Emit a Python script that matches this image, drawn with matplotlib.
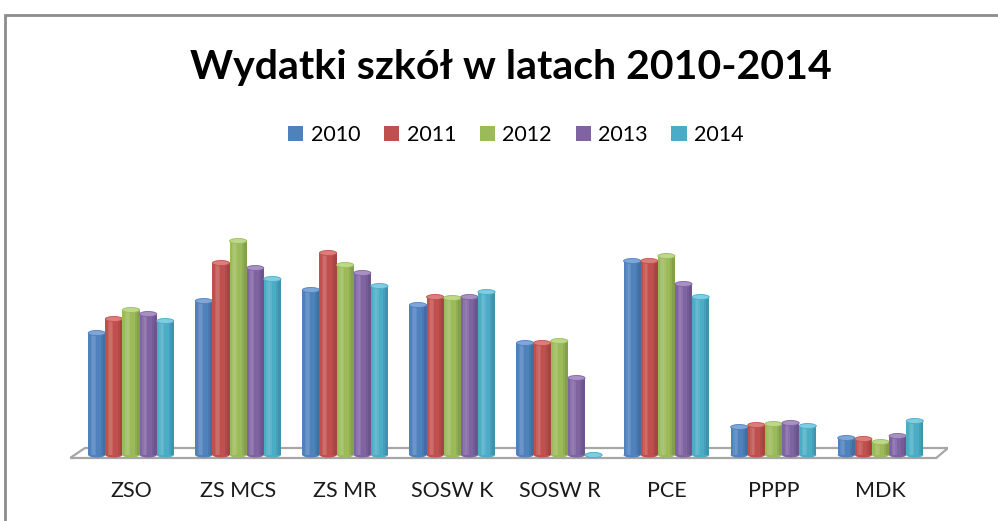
import matplotlib.pyplot as plt
from matplotlib.patches import Ellipse, Polygon, Rectangle
import numpy as np

# data (no value axis, arbitrary units)
categories = ['ZSO', 'ZS MCS', 'ZS MR', 'SOSW K', 'SOSW R', 'PCE', 'PPPP', 'MDK']
years = ['2010', '2011', '2012', '2013', '2014']
v2010 = [122, 154, 165, 150, 112, 194, 28, 17]
v2011 = [136, 192, 202, 158, 112, 194, 30, 16]
v2012 = [145, 214, 190, 157, 114, 199, 31, 13]
v2013 = [141, 187, 182, 158, 77, 171, 32, 19]
v2014 = [134, 176, 169, 163, 0, 158, 29, 34]
series = [v2010, v2011, v2012, v2013, v2014]
colors = ['#4F81BD', '#C0504D', '#9BBB59', '#8064A2', '#4BACC6']
tops = ['#7FA6D8', '#DB7E7B', '#BCD98A', '#A690C4', '#80CCE0']

plt.rcParams['font.family'] = ['Lato', 'DejaVu Sans']

W, H = 998, 521
fig = plt.figure(figsize=(W / 100, H / 100), dpi=100)

# chart border (top and left visible, rest cut off)
fig.patches.append(Rectangle((5 / W, -0.1), 1.2, 1 - 15 / H + 0.1, transform=fig.transFigure,
                             fill=False, edgecolor='#8c8c8c', lw=2))

ax_l, ax_r = 70, 948
ax_b, ax_t = 470, 200
ax = fig.add_axes([ax_l / W, 1 - ax_b / H, (ax_r - ax_l) / W, (ax_b - ax_t) / H])
ax.set_xlim(-0.57, 7.63)
ax.set_ylim(-15, 255)
ax.axis('off')

# floor
floor = Polygon([(-0.57, -3), (7.52, -3), (7.63, 7), (-0.43, 7)], closed=True,
                facecolor='white', edgecolor='#a6a6a6', lw=1.6, zorder=1)
ax.add_patch(floor)

x = np.arange(len(categories))
bw = 0.16
# soft cylinder shading: (offset, width, colour, alpha)
shade = [(-0.2, 0.3, 'white', 0.10), (-0.2, 0.14, 'white', 0.08),
         (0.36, 0.28, 'black', 0.07), (0.42, 0.16, 'black', 0.07)]
for j, (vals, c, tc) in enumerate(zip(series, colors, tops)):
    pos = x + (j - 2) * bw
    z = 2 + j * 0.01
    bars = ax.bar(pos, vals, bw, color=c, zorder=z, linewidth=0)
    for off, wd, sc, al in shade:
        ax.bar(pos + bw * off, vals, bw * wd, color=sc, alpha=al, zorder=z + 0.003, linewidth=0)
    for b in bars:
        cx = b.get_x() + b.get_width() / 2
        h = b.get_height()
        ax.add_patch(Ellipse((cx, 0), bw, 5, facecolor=c, edgecolor='none', zorder=z - 0.1))
        ax.add_patch(Ellipse((cx, h), bw, 5, facecolor=tc, edgecolor=c, lw=0.6, zorder=z + 0.008))

for i, name in enumerate(categories):
    ax.text(i, -36, name, ha='center', va='center', fontsize=15.5, color='#1a1a1a',
            clip_on=False)

fig.text(0.512, 1 - 68 / H, 'Wydatki szkół w latach 2010-2014', ha='center', va='center',
         fontsize=29.5, fontweight='bold', color='black')

handles = [Rectangle((0, 0), 1, 1, facecolor=c) for c in colors]
fig.legend(handles, years, loc='center', bbox_to_anchor=(0.517, 1 - 135 / H), ncol=5,
           frameon=False, handlelength=0.7, handleheight=0.7, handletextpad=0.35,
           columnspacing=1.1, prop={'size': 15.5})

fig.savefig('out.png', dpi=100)
